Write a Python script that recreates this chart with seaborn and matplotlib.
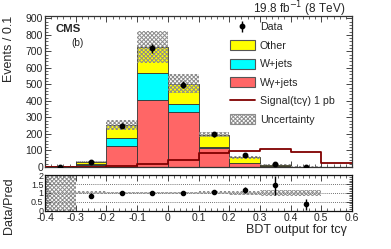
import numpy as np
import pandas as pd
import matplotlib
matplotlib.use("Agg")
import matplotlib.pyplot as plt
from matplotlib.patches import Patch
from matplotlib.lines import Line2D
from matplotlib.ticker import MultipleLocator
import seaborn as sns

# ---------------- data ----------------
edges = [-0.4, -0.3, -0.2, -0.1, 0.0, 0.1, 0.2, 0.3, 0.4, 0.5, 0.6]
centers = [-0.35, -0.25, -0.15, -0.05, 0.05, 0.15, 0.25, 0.35, 0.45, 0.55]
wgamma = [3, 14, 128, 408, 333, 118, 24, 5, 2, 0]
wjets = [0, 2, 47, 162, 51, 6, 2, 1, 0, 0]
other = [1, 17, 80, 155, 120, 71, 33, 8, 1, 0]
unc = [3, 5, 30, 97, 56, 15, 10, 4, 2, 0]
signal = [0, 2, 5, 20, 44, 84, 94, 108, 88, 24]
data_x = [-0.35, -0.25, -0.15, -0.05, 0.05, 0.15, 0.25, 0.35, 0.45]
data_y = [2, 28, 250, 718, 498, 198, 70, 20, 1]
ratio_x = [-0.25, -0.15, -0.05, 0.05, 0.15, 0.25, 0.35, 0.45]
ratio_y = [0.85, 1.0, 1.0, 1.0, 1.03, 1.18, 1.43, 0.35]
ratio_err = [0.12, 0.05, 0.04, 0.04, 0.07, 0.18, 0.55, 0.3]
ratio_band = [1.1, 0.09, 0.07, 0.07, 0.07, 0.08, 0.12, 0.15, 0.15, 0.0]

sns.set_theme(style="ticks")
plt.rcParams["font.family"] = ["Liberation Sans", "DejaVu Sans"]
plt.rcParams["hatch.linewidth"] = 0.7
plt.rcParams["xtick.direction"] = "in"
plt.rcParams["ytick.direction"] = "in"

HATCH = "xxxxxxxx"
HCOL = "#8c8c8c"

W, H = 391, 249
fig = plt.figure(figsize=(W / 100, H / 100), dpi=100)
L, R = 45 / W, 352 / W
ax = fig.add_axes([L, 1 - 167 / H, R - L, (167 - 16) / H])
axr = fig.add_axes([L, 1 - 210.5 / H, R - L, (210.5 - 175.3) / H])

# ---------------- stacked backgrounds ----------------
procs = ["Other", "W+jets", "W\u03b3+jets"]
vals = {"Other": other, "W+jets": wjets, "W\u03b3+jets": wgamma}
rows = []
for p in procs:
    for c, v in zip(centers, vals[p]):
        rows.append({"bdt": c, "events": v, "process": p})
df = pd.DataFrame(rows)
palette = {"Other": "#ffff00", "W+jets": "#00ffff", "W\u03b3+jets": "#ff6666"}
sns.histplot(data=df, x="bdt", weights="events", hue="process", hue_order=procs,
             multiple="stack", bins=edges, palette=palette, alpha=1,
             edgecolor="#333333", linewidth=0.6, legend=False, ax=ax)

total = np.array(wgamma) + np.array(wjets) + np.array(other)
unc_a = np.array(unc)
widths = np.diff(edges)
ax.bar(edges[:-1], 2 * unc_a, bottom=total - unc_a, width=widths, align="edge",
       facecolor="none", edgecolor=HCOL, hatch=HATCH, linewidth=0, zorder=3)

# signal
sns.histplot(x=centers, weights=signal, bins=edges, element="step", fill=False,
             color="#800000", linewidth=1.3, ax=ax, zorder=4)

# data
data_h = ax.errorbar(data_x, data_y, yerr=np.sqrt(data_y), fmt="o", color="black",
                     markersize=3.2, elinewidth=1.0, capsize=0, zorder=5)

ax.set_xlim(-0.4, 0.6)
ax.set_ylim(0, 914)
ax.set_xlabel("")
ax.set_ylabel("")
ax.xaxis.set_major_locator(MultipleLocator(0.1))
ax.xaxis.set_minor_locator(MultipleLocator(0.02))
ax.yaxis.set_major_locator(MultipleLocator(100))
ax.yaxis.set_minor_locator(MultipleLocator(20))
ax.tick_params(axis="both", which="both", top=True, right=True, labelsize=7.5,
               pad=1.5)
ax.tick_params(which="major", length=4, width=0.6)
ax.tick_params(which="minor", length=2, width=0.5)
ax.tick_params(axis="x", labelbottom=False)
for s in ax.spines.values():
    s.set_linewidth(0.9)
    s.set_color("#333333")

# legend
handles = [
    data_h,
    Patch(facecolor="#ffff00", edgecolor="#555555", linewidth=0.8),
    Patch(facecolor="#00ffff", edgecolor="#555555", linewidth=0.8),
    Patch(facecolor="#ff6666", edgecolor="#555555", linewidth=0.8),
    Line2D([0], [0], color="#800000", linewidth=1.3),
    Patch(facecolor="white", edgecolor=HCOL, hatch=HATCH, linewidth=0.8),
]
labels = ["Data", "Other", "W+jets", "W\u03b3+jets", "Signal(tc\u03b3) 1 pb", "Uncertainty"]
leg = ax.legend(handles, labels, loc="upper left",
                bbox_to_anchor=(230 / W, 1 - 22 / H), bbox_transform=fig.transFigure,
                frameon=False, fontsize=7.7, handlelength=2.3, handleheight=1.0,
                labelspacing=0.75, handletextpad=0.5, borderpad=0, borderaxespad=0)

fig.text(56 / W, 1 - 29 / H, "CMS", fontsize=8.2, fontweight="bold", va="center")
fig.text(71 / W, 1 - 43 / H, "(b)", fontsize=7.3, va="center")
fig.text(345 / W, 1 - 9 / H, "19.8 fb$^{-1}$ (8 TeV)", fontsize=8.5, ha="right",
         va="center")
fig.text(9 / W, 1 - 48.5 / H, "Events / 0.1", fontsize=9, rotation=90,
         ha="center", va="center")

# ---------------- ratio panel ----------------
rb = np.array(ratio_band)
axr.bar(edges[:-1], 2 * rb, bottom=1 - rb, width=widths, align="edge",
        facecolor="none", edgecolor=HCOL, hatch=HATCH, linewidth=0, zorder=2)
for yv in [0.5, 1.0, 1.5]:
    axr.axhline(yv, color="#444444", linestyle=(0, (1, 1.5)), linewidth=0.6, zorder=1)
axr.errorbar(ratio_x, ratio_y, yerr=ratio_err, fmt="o", color="black",
             markersize=3.0, elinewidth=1.0, capsize=0, zorder=5)
axr.set_xlim(-0.4, 0.6)
axr.set_ylim(0, 2)
axr.xaxis.set_major_locator(MultipleLocator(0.1))
axr.xaxis.set_minor_locator(MultipleLocator(0.02))
axr.yaxis.set_minor_locator(MultipleLocator(0.1))
axr.set_yticks([0, 0.5, 1, 1.5, 2])
axr.set_yticklabels(["0", "0.5", "1", "1.5", "2"])
axr.set_xticks([-0.4, -0.3, -0.2, -0.1, 0, 0.1, 0.2, 0.3, 0.4, 0.5, 0.6])
axr.set_xticklabels(["-0.4", "-0.3", "-0.2", "-0.1", "0", "0.1", "0.2", "0.3",
                     "0.4", "0.5", "0.6"])
axr.tick_params(axis="both", which="both", top=True, right=True, labelsize=7.5,
                pad=1.5)
axr.tick_params(axis="y", labelsize=6.5, pad=1)
axr.tick_params(which="major", length=4, width=0.6)
axr.tick_params(which="minor", length=2, width=0.5)
for s in axr.spines.values():
    s.set_linewidth(0.9)
    s.set_color("#111111")
axr.set_xlabel("")
axr.set_ylabel("")
fig.text(347 / W, 1 - 230 / H, "BDT output for tc\u03b3", fontsize=9, ha="right",
         va="center")
fig.text(9 / W, 1 - 206 / H, "Data/Pred", fontsize=9, rotation=90,
         ha="center", va="center")

fig.savefig("out.png", dpi=100)
